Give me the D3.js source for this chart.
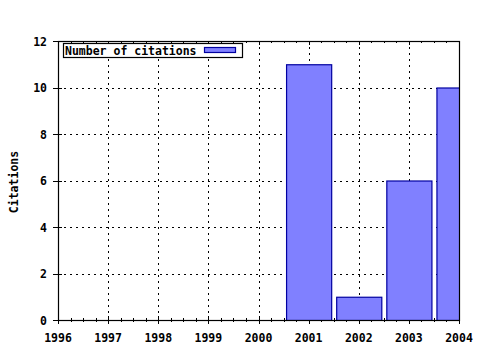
<!DOCTYPE html>
<html>
<head>
<meta charset="utf-8">
<script src="https://cdn.jsdelivr.net/npm/d3@7"></script>
<style>
  body { margin: 0; background: #fff; }
  text { font-family: "DejaVu Sans Mono", monospace; font-weight: bold; font-size: 11.5px; fill: #000; }
</style>
</head>
<body>
<svg id="chart" width="480" height="350"></svg>
<script>
"use strict";

const years = [2001, 2002, 2003, 2004];
const citations = [11, 1, 6, 10];
const xTicks = [1996, 1997, 1998, 1999, 2000, 2001, 2002, 2003, 2004];
const yTicks = [0, 2, 4, 6, 8, 10, 12];
const seriesName = "Number of citations";
const yLabel = "Citations";

let svg = d3.select("#chart");
let m = {l: 58, r: 459, t: 41, b: 320};

let x = d3.scaleLinear().domain([1996, 2004]).range([m.l, m.r]);
let y = d3.scaleLinear().domain([0, 12]).range([m.b, m.t]);

// minor x ticks, 4 per year
let xMinor = d3.range(1996, 2004.001, 0.25).filter(d => d % 1 != 0);

svg.append("clipPath").attr("id", "plot")
  .append("rect").attr("x", m.l).attr("y", m.t).attr("width", m.r - m.l).attr("height", m.b - m.t);

// grid
let grid = svg.append("g").attr("stroke", "#000").attr("stroke-width", 1)
  .attr("stroke-dasharray", "2,4").attr("shape-rendering", "crispEdges");
xTicks.slice(1, -1).forEach(d => {
  grid.append("line").attr("x1", Math.round(x(d)) + 0.5).attr("x2", Math.round(x(d)) + 0.5)
    .attr("y1", m.t).attr("y2", m.b);
});
yTicks.slice(1, -1).forEach(d => {
  grid.append("line").attr("y1", Math.round(y(d)) + 0.5).attr("y2", Math.round(y(d)) + 0.5)
    .attr("x1", m.l).attr("x2", m.r);
});

// ticks (drawn before the bars, like gnuplot), mirrored inward on top/right
let ticks = svg.append("g").attr("stroke", "#000").attr("shape-rendering", "crispEdges");
xTicks.forEach(d => {
  let px = Math.round(x(d)) + 0.5;
  ticks.append("line").attr("x1", px).attr("x2", px).attr("y1", m.b + 4).attr("y2", m.b - 4);
  ticks.append("line").attr("x1", px).attr("x2", px).attr("y1", m.t).attr("y2", m.t + 4);
});
xMinor.forEach(d => {
  let px = Math.round(x(d)) + 0.5;
  ticks.append("line").attr("x1", px).attr("x2", px).attr("y1", m.b + 2).attr("y2", m.b - 2);
  ticks.append("line").attr("x1", px).attr("x2", px).attr("y1", m.t).attr("y2", m.t + 2);
});
yTicks.forEach(d => {
  let py = Math.round(y(d)) + 0.5;
  ticks.append("line").attr("y1", py).attr("y2", py).attr("x1", m.l - 5).attr("x2", m.l + 4);
  ticks.append("line").attr("y1", py).attr("y2", py).attr("x1", m.r - 4).attr("x2", m.r);
});

// bars (width 0.9 of a year, clipped to plot area)
svg.append("g").attr("clip-path", "url(#plot)")
  .selectAll("rect").data(years).join("rect")
    .attr("x", d => x(d - 0.45) + 0.5)
    .attr("width", d => x(d + 0.45) - x(d - 0.45))
    .attr("y", (d, i) => y(citations[i]) + 0.5)
    .attr("height", (d, i) => y(0) - y(citations[i]))
    .attr("fill", "#8080ff").attr("stroke", "#0000a0").attr("stroke-width", 1.2);

// border
svg.append("rect").attr("x", m.l + 0.5).attr("y", m.t + 0.5)
  .attr("width", m.r - m.l).attr("height", m.b - m.t)
  .attr("fill", "none").attr("stroke", "#000").attr("stroke-width", 1.2);

// tick labels
svg.append("g").selectAll("text").data(xTicks).join("text")
  .attr("x", d => x(d)).attr("y", 342).attr("text-anchor", "middle").text(d => d);
svg.append("g").selectAll("text").data(yTicks).join("text")
  .attr("x", 47).attr("y", d => y(d) + 4.5).attr("text-anchor", "end").text(d => d);

// y axis label
svg.append("text").attr("transform", "translate(18,182) rotate(-90)")
  .attr("text-anchor", "middle").text(yLabel);

// legend
let lg = svg.append("g");
lg.append("rect").attr("x", 63.5).attr("y", 43.5).attr("width", 179).attr("height", 14)
  .attr("fill", "#fff").attr("stroke", "#000").attr("stroke-width", 1.2);
lg.append("text").attr("x", 65).attr("y", 54.5).text(seriesName);
lg.append("rect").attr("x", 204.5).attr("y", 47.5).attr("width", 31).attr("height", 5)
  .attr("fill", "#8080ff").attr("stroke", "#0000a0").attr("stroke-width", 1.2);
</script>
</body>
</html>
